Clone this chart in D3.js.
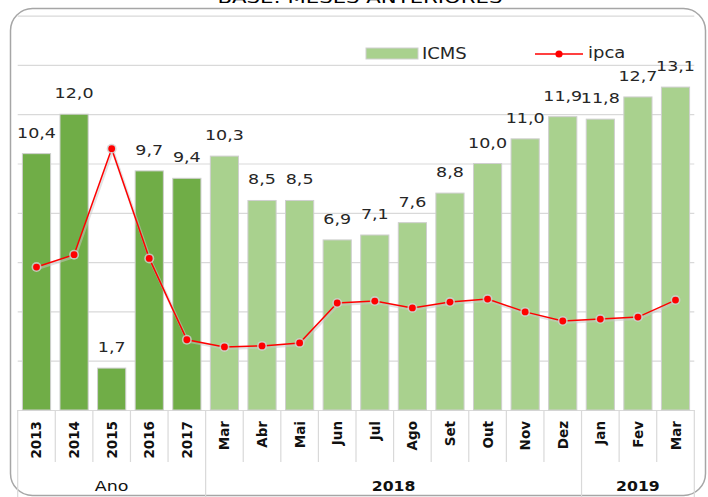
<!DOCTYPE html>
<html>
<head>
<meta charset="utf-8">
<script src="https://cdn.jsdelivr.net/npm/d3@7"></script>
<style>
  html, body { margin: 0; padding: 0; background: #fff; }
  svg { display: block; font-family: "DejaVu Sans", sans-serif; }
</style>
</head>
<body>
<svg id="chart" width="708" height="497"></svg>
<script>
// ---- data ----
const categories = ["2013","2014","2015","2016","2017","Mar","Abr","Mai","Jun","Jul","Ago","Set","Out","Nov","Dez","Jan","Fev","Mar"];
const icms = [10.4, 12.0, 1.7, 9.7, 9.4, 10.3, 8.5, 8.5, 6.9, 7.1, 7.6, 8.8, 10.0, 11.0, 11.9, 11.8, 12.7, 13.1];
const ipca = [5.8, 6.3, 10.6, 6.15, 2.85, 2.56, 2.6, 2.72, 4.34, 4.42, 4.14, 4.38, 4.5, 3.98, 3.61, 3.69, 3.77, 4.46];
const icmsLabels = ["10,4","12,0","1,7","9,7","9,4","10,3","8,5","8,5","6,9","7,1","7,6","8,8","10,0","11,0","11,9","11,8","12,7","13,1"];
const groupNames = ["Ano", "2018", "2019"];
const groupSizes = [5, 10, 3];
const yTicks = [0, 2, 4, 6, 8, 10, 12, 14, 16];
const seriesNames = ["ICMS", "ipca"];
const titleText = "BASE: MESES ANTERIORES";

// ---- layout ----
const svg = d3.select("#chart");
const plotLeft = 17.7, plotRight = 694.3, plotTop = 15.6, plotBottom = 410;
const darkGreen = "#70AD47", lightGreen = "#A9D18E", red = "#FF0000";
const SX = 1.25;

const idx = categories.map((d, i) => i);
const x = d3.scaleBand().domain(idx).range([plotLeft, plotRight]).paddingInner(0.25).paddingOuter(0.125);
const step = x.step();
const y = d3.scaleLinear().domain([0, 16]).range([plotBottom, plotTop]);

function stext(parent, tx, ty, str, opts) {
  const g = parent.append("g").attr("transform", `translate(${tx},${ty})`);
  const t = g.append("text")
    .attr("transform", `scale(${opts.sx || SX},1)`)
    .attr("text-anchor", opts.anchor || "middle")
    .attr("font-size", opts.size || 14)
    .attr("font-weight", opts.weight || "normal")
    .attr("fill", opts.fill || "#262626")
    .text(str);
  return t;
}

// title (clipped at top, as in the reference)
svg.append("text")
  .attr("x", 360).attr("y", 3)
  .attr("text-anchor", "middle")
  .attr("font-size", 16)
  .attr("textLength", 285).attr("lengthAdjust", "spacingAndGlyphs")
  .attr("fill", "#000")
  .text(titleText);

// border
svg.append("rect")
  .attr("x", 10.5).attr("y", 8.5).attr("width", 695).attr("height", 487).attr("rx", 22)
  .attr("fill", "#fff").attr("stroke", "#a6a6a6").attr("stroke-width", 1.5);

// gridlines
const yAxis = d3.axisLeft(y).tickValues(yTicks).tickSize(-(plotRight - plotLeft)).tickFormat("");
const gy = svg.append("g").attr("transform", `translate(${plotLeft},0)`).call(yAxis);
gy.select(".domain").remove();
gy.selectAll(".tick line").attr("stroke", "#d9d9d9").attr("stroke-width", 1.2);

// category table lines
const table = svg.append("g").attr("stroke", "#d9d9d9").attr("stroke-width", 1.2);
table.append("line").attr("x1", plotLeft).attr("x2", plotRight).attr("y1", plotBottom + 0.5).attr("y2", plotBottom + 0.5);
const boundaries = d3.range(categories.length + 1);
const groupBounds = [0];
groupSizes.reduce((acc, n) => { groupBounds.push(acc + n); return acc + n; }, 0);
boundaries.forEach(b => {
  const bx = plotLeft + b * step;
  const isGroup = groupBounds.includes(b);
  table.append("line").attr("x1", bx).attr("x2", bx)
    .attr("y1", plotBottom).attr("y2", isGroup ? 497 : 462);
});

// bars
svg.append("g").selectAll("rect").data(icms).join("rect")
  .attr("x", (d, i) => x(i))
  .attr("y", d => y(d))
  .attr("width", x.bandwidth())
  .attr("height", d => plotBottom - y(d))
  .attr("fill", (d, i) => i < groupSizes[0] ? darkGreen : lightGreen)
  .attr("stroke", "#cfcfcf").attr("stroke-width", 1);

// ipca line
const line = d3.line().x((d, i) => x(i) + x.bandwidth() / 2).y(d => y(d));
svg.append("path").datum(ipca).attr("d", line)
  .attr("fill", "none").attr("stroke", "#c8c8c8").attr("stroke-width", 3).attr("opacity", 0.5)
  .attr("transform", "translate(1,1.5)");
svg.append("path").datum(ipca).attr("d", line)
  .attr("fill", "none").attr("stroke", red).attr("stroke-width", 1.5);
const mk = svg.append("g").selectAll("g").data(ipca).join("g")
  .attr("transform", (d, i) => `translate(${x(i) + x.bandwidth() / 2},${y(d)})`);
mk.append("circle").attr("r", 5).attr("fill", "#d0d0d0").attr("opacity", 0.8);
mk.append("circle").attr("r", 3.4).attr("fill", red);

// data labels
icms.forEach((v, i) => {
  stext(svg, x(i) + x.bandwidth() / 2, y(v) - 16, icmsLabels[i], { size: 14, fill: "#262626" });
});

// category labels
categories.forEach((c, i) => {
  svg.append("text")
    .attr("transform", `translate(${x(i) + x.bandwidth() / 2},421) rotate(-90)`)
    .attr("text-anchor", "end")
    .attr("dominant-baseline", "central")
    .attr("font-size", 13.5).attr("font-weight", "bold")
    .attr("fill", "#111")
    .text(c);
});

// group labels
groupNames.forEach((g, k) => {
  const start = groupBounds[k], end = groupBounds[k + 1];
  const cx = plotLeft + (start + end) / 2 * step;
  stext(svg, cx, 491, g, { size: 14, fill: "#111", weight: k === 0 ? "normal" : "bold", sx: k === 0 ? 1.25 : 1.12 });
});

// legend
svg.append("rect").attr("x", 366).attr("y", 48).attr("width", 52).attr("height", 11)
  .attr("fill", lightGreen).attr("stroke", "#cfcfcf").attr("stroke-width", 1);
stext(svg, 422, 59, seriesNames[0], { size: 15, anchor: "start", fill: "#262626", sx: 1.2 });
svg.append("line").attr("x1", 535).attr("x2", 583).attr("y1", 54).attr("y2", 54)
  .attr("stroke", red).attr("stroke-width", 1.5);
svg.append("circle").attr("cx", 559).attr("cy", 54).attr("r", 3.6).attr("fill", red);
stext(svg, 588, 58, seriesNames[1], { size: 15, anchor: "start", fill: "#262626", sx: 1.2 });
</script>
</body>
</html>
